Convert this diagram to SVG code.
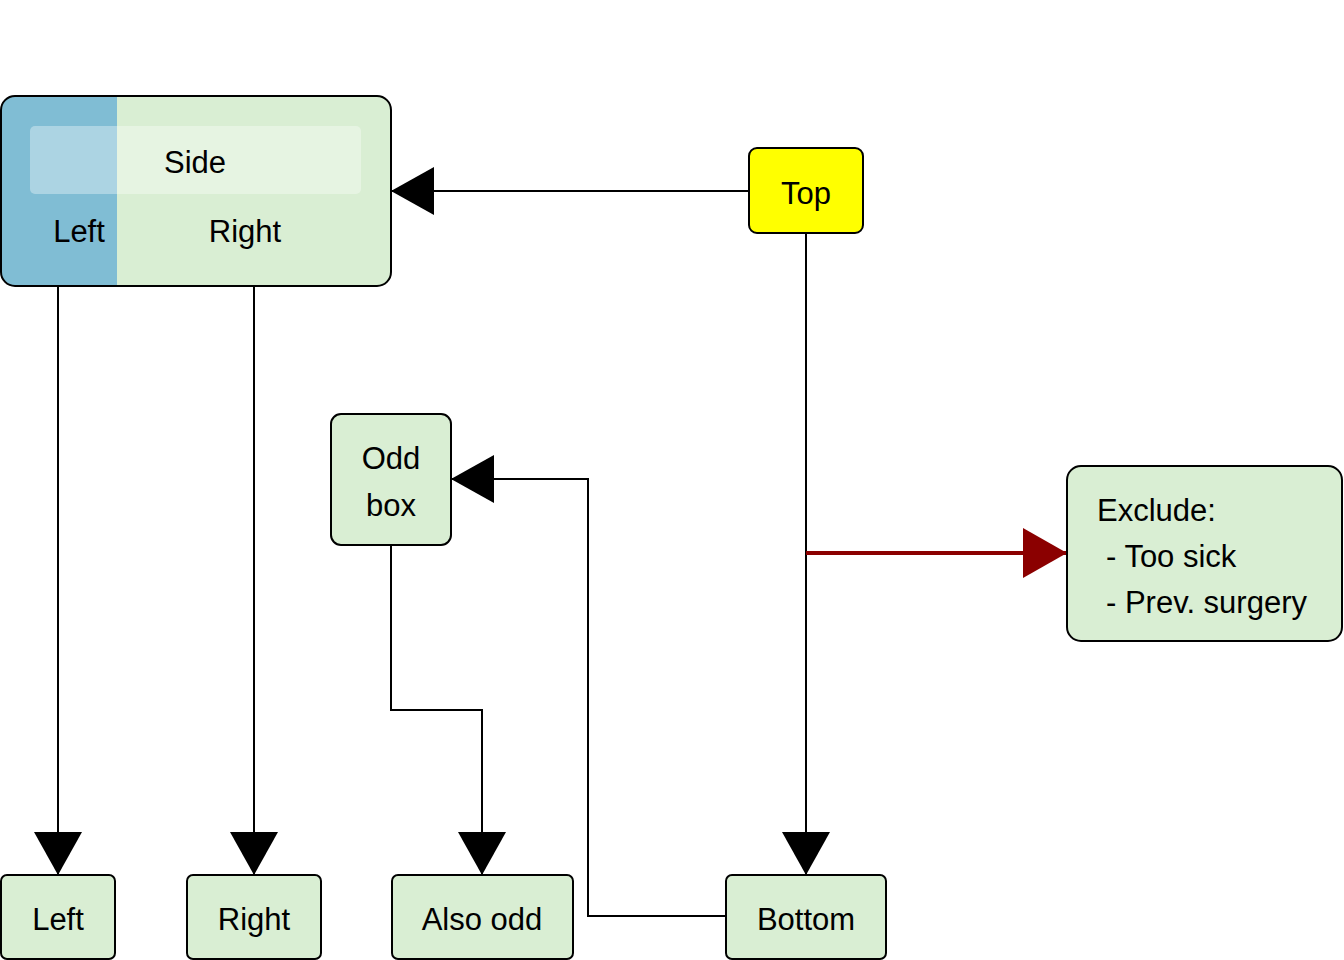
<svg xmlns="http://www.w3.org/2000/svg" width="1344" height="960" viewBox="0 0 1344 960">
<style>
.box{fill:#d9eed3;stroke:#000;stroke-width:2}
.t{font-family:"Liberation Sans",Arial,sans-serif;font-size:31px;fill:#000}
.c{text-anchor:middle}
.e{fill:none;stroke:#000;stroke-width:2}
.red{fill:none;stroke:#8b0000;stroke-width:4}
</style>
<defs>
<marker id="ab" markerUnits="userSpaceOnUse" markerWidth="44" markerHeight="50" refX="43" refY="24" orient="auto"><path d="M0,0 L43,24 L0,48 Z" fill="#000"/></marker>
<marker id="ar" markerUnits="userSpaceOnUse" markerWidth="46" markerHeight="52" refX="44" refY="25" orient="auto"><path d="M0,0 L44,25 L0,50 Z" fill="#8b0000"/></marker>
<clipPath id="bigclip"><rect x="1" y="96" width="390" height="190" rx="14"/></clipPath>
</defs>
<g id="connectors">
<path class="e" d="M749,191 L391,191" marker-end="url(#ab)"/>
<path class="e" d="M806,233 L806,875" marker-end="url(#ab)"/>
<path class="red" d="M806,553 L1067,553" marker-end="url(#ar)"/>
<path class="e" d="M58,286 L58,875" marker-end="url(#ab)"/>
<path class="e" d="M254,286 L254,875" marker-end="url(#ab)"/>
<path class="e" d="M391,545 L391,710 L482,710 L482,875" marker-end="url(#ab)"/>
<path class="e" d="M726,916 L588,916 L588,479 L451,479" marker-end="url(#ab)"/>
</g>
<g id="side">
<g clip-path="url(#bigclip)">
<rect x="1" y="96" width="390" height="190" fill="#d9eed3"/>
<rect x="1" y="96" width="116" height="190" fill="#80bdd4"/>
</g>
<rect x="30" y="126" width="331" height="68" rx="5" fill="#fff" fill-opacity="0.35"/>
<rect x="1" y="96" width="390" height="190" rx="14" fill="none" stroke="#000" stroke-width="2"/>
<text class="t c" x="195" y="173">Side</text>
<text class="t c" x="79" y="242">Left</text>
<text class="t c" x="245" y="242">Right</text>
</g>
<g id="top">
<rect x="749" y="148" width="114" height="85" rx="8" fill="#ffff00" stroke="#000" stroke-width="2"/>
<text class="t c" x="806" y="204">Top</text>
</g>
<g id="exclude">
<rect class="box" x="1067" y="466" width="275" height="175" rx="14"/>
<text class="t" x="1097" y="521">Exclude:</text>
<text class="t" x="1106" y="567">- Too sick</text>
<text class="t" x="1106" y="613">- Prev. surgery</text>
</g>
<g id="oddbox">
<rect class="box" x="331" y="414" width="120" height="131" rx="10"/>
<text class="t c" x="391" y="469">Odd</text>
<text class="t c" x="391" y="516">box</text>
</g>
<g id="left">
<rect class="box" x="1" y="875" width="114" height="84" rx="6"/>
<text class="t c" x="58" y="930">Left</text>
</g>
<g id="right">
<rect class="box" x="187" y="875" width="134" height="84" rx="6"/>
<text class="t c" x="254" y="930">Right</text>
</g>
<g id="alsoodd">
<rect class="box" x="392" y="875" width="181" height="84" rx="6"/>
<text class="t c" x="482" y="930">Also odd</text>
</g>
<g id="bottom">
<rect class="box" x="726" y="875" width="160" height="84" rx="6"/>
<text class="t c" x="806" y="930">Bottom</text>
</g>
</svg>
